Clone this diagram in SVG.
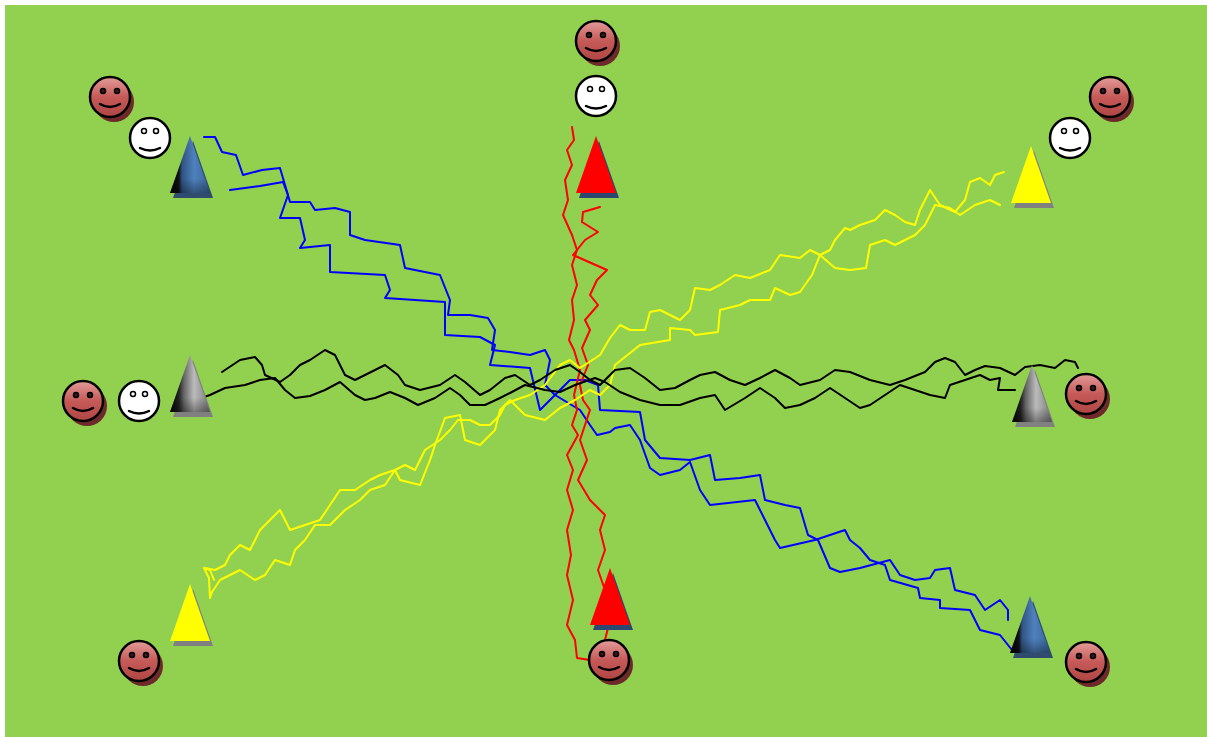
<svg xmlns="http://www.w3.org/2000/svg" width="1207" height="737" viewBox="0 0 1207 737">
  <style>
    .run { fill: none; stroke-width: 2; stroke-linejoin: round; stroke-linecap: round; }
    .blue { stroke: #0000FF; }
    .red { stroke: #FF0000; }
    .yellow { stroke: #FFFF00; }
    .black { stroke: #000000; }
    .face { stroke: #000; stroke-width: 2.5; }
    .eye { fill: #3a1a1a; stroke: #000; stroke-width: 1.5; }
    .mouth { fill: none; stroke: #000; stroke-width: 2.5; stroke-linecap: round; }
  </style>
  <defs>
    <linearGradient id="redFace" x1="0" y1="0" x2="0" y2="1">
      <stop offset="0" stop-color="#E39C9A"/>
      <stop offset="0.5" stop-color="#C55A58"/>
      <stop offset="1" stop-color="#B04644"/>
    </linearGradient>
    <linearGradient id="blueCone" x1="0" y1="0" x2="1" y2="0">
      <stop offset="0" stop-color="#000"/>
      <stop offset="0.22" stop-color="#111"/>
      <stop offset="0.3" stop-color="#2E5383"/>
      <stop offset="0.6" stop-color="#4F81BD"/>
      <stop offset="1" stop-color="#3A659C"/>
    </linearGradient>
    <linearGradient id="grayCone" x1="0" y1="0" x2="1" y2="0">
      <stop offset="0" stop-color="#000"/>
      <stop offset="0.22" stop-color="#222"/>
      <stop offset="0.35" stop-color="#666"/>
      <stop offset="0.6" stop-color="#BBB"/>
      <stop offset="1" stop-color="#7A7A7A"/>
    </linearGradient>
    <linearGradient id="coneBase" x1="0" y1="0" x2="0" y2="1">
      <stop offset="0" stop-color="#000" stop-opacity="0"/>
      <stop offset="0.75" stop-color="#000" stop-opacity="0"/>
      <stop offset="1" stop-color="#000" stop-opacity="0.35"/>
    </linearGradient>

    <!-- smiley faces, centred on 0,0 -->
    <g id="redSmiley">
      <circle cx="4" cy="5" r="20" fill="#6E2A2A"/>
      <circle cx="0" cy="0" r="20" fill="url(#redFace)" class="face"/>
      <circle cx="-7" cy="-6" r="2.5" class="eye"/>
      <circle cx="7" cy="-6" r="2.5" class="eye"/>
      <path d="M-10,7 Q0,13 10,7" class="mouth"/>
    </g>
    <g id="whiteSmiley">
      <circle cx="0" cy="0" r="20" fill="#FFF" class="face"/>
      <circle cx="-6" cy="-7" r="2.5" fill="#FFF" stroke="#000" stroke-width="1.5"/>
      <circle cx="6" cy="-7" r="2.5" fill="#FFF" stroke="#000" stroke-width="1.5"/>
      <path d="M-10,10 Q0,15 10,10" class="mouth"/>
    </g>

    <!-- cones, apex at 0,0 -->
    <polygon id="coneShape" points="0,0 -20,57 20,57"/>
    <polygon id="coneShadow" points="3,5 -17,62 23,62"/>
  </defs>

  <!-- pitch -->
  <rect x="5" y="5" width="1202" height="732" fill="#92D050"/>

  <!-- dribbling runs -->
  <g id="connectors">
    <polyline class="run blue" points="204,137 215,137 222,152 236,155 243,175 262,170 280,168 285,185 290,202 310,202 315,210 335,208 350,212 350,235 365,240 400,245 405,268 425,272 440,275 450,300 448,315 470,315 488,318 495,330 492,350 510,352 530,355 545,350 550,360 545,385 555,395 570,380 585,380 598,385 600,410 640,412 645,440 660,458 690,460 710,455 715,480 740,478 760,475 765,500 785,505 800,508 808,535 818,540 830,568 840,572 860,568 890,560 900,575 915,580 930,578 935,570 950,568 955,590 975,595 985,610 1000,600 1008,610 1008,620"/>
    <polyline class="run blue" points="230,190 260,186 283,182 288,195 280,218 300,218 305,240 300,248 330,245 330,272 385,275 390,290 385,298 445,302 445,335 480,337 495,345 490,365 530,368 540,410 555,395 580,410 590,425 597,435 610,432 615,428 630,425 640,440 650,468 660,475 680,470 690,462 700,490 710,505 755,500 775,540 780,548 815,540 845,530 850,540 860,548 870,560 885,565 890,580 918,588 920,598 940,600 940,608 970,610 980,630 1000,635 1012,650"/>

    <polyline class="run red" points="572,127 574,140 567,150 572,165 565,180 568,200 563,215 572,235 577,250 572,265 577,285 572,300 574,320 569,340 574,350 580,370 574,395 577,410 572,425 578,435 567,455 573,470 567,490 573,510 567,530 571,555 567,575 573,600 567,625 575,640 577,658 590,660"/>
    <polyline class="run red" points="600,207 583,212 582,222 598,232 585,240 573,255 607,270 597,280 590,295 598,305 585,320 590,330 582,348 588,365 580,385 583,400 590,410 585,425 580,440 587,460 578,480 590,500 605,515 600,530 605,550 598,570 605,590 612,595 610,620 605,640 600,645"/>

    <polyline class="run yellow" points="1004,172 995,175 990,185 980,178 970,182 965,200 955,212 940,205 930,190 920,210 915,225 905,222 895,215 885,210 875,220 860,225 850,230 845,228 835,240 830,250 820,255 810,250 800,258 780,255 770,270 750,278 735,275 720,285 710,290 695,288 690,310 680,320 660,310 650,312 645,330 630,330 620,325 610,338 600,355 580,368 570,360 560,365 545,385 530,395 515,400 505,405 500,415 490,425 480,425 470,420 458,420 450,430 440,440 425,450 415,470 405,465 395,470 380,475 370,480 355,490 340,490 330,505 320,520 305,525 290,530 280,510 270,520 260,530 250,550 240,545 230,555 225,565 215,570 205,568"/>
    <polyline class="run yellow" points="1000,205 990,200 975,205 960,215 950,208 935,205 925,225 915,235 905,240 895,245 885,240 870,245 866,268 850,270 835,268 820,255 812,275 800,292 790,295 775,288 770,300 750,300 740,305 720,310 718,332 695,335 690,330 670,328 670,340 640,345 615,365 610,385 600,395 590,390 575,400 560,408 545,420 525,415 510,400 500,410 495,430 480,445 465,440 460,415 445,418 435,445 430,460 420,485 400,480 395,470 385,485 370,490 360,500 345,510 330,525 315,525 305,540 295,550 290,565 275,560 265,575 255,580 240,570 230,575 220,580 212,592 210,598 209,578 204,568 210,570 214,580"/>

    <polyline class="run black" points="222,372 240,360 255,357 262,365 265,375 280,382 290,375 300,365 310,360 325,350 335,355 345,375 355,380 365,375 375,370 385,365 398,375 405,385 420,390 440,385 455,375 465,382 480,395 490,390 505,378 515,375 530,385 540,380 555,370 570,365 580,372 590,380 600,385 615,370 630,368 645,378 660,390 675,388 690,380 700,375 715,372 730,380 745,385 760,378 775,370 790,378 800,385 820,380 835,370 850,372 870,380 890,385 905,380 925,372 935,362 945,358 955,362 965,375 975,370 985,366 1000,368 1015,375 1025,367 1040,365 1055,368 1065,360 1075,362 1078,368"/>
    <polyline class="run black" points="195,400 210,395 225,388 245,385 260,380 275,378 285,390 295,398 310,396 325,390 340,382 355,395 365,400 375,398 390,392 405,398 418,405 435,398 450,388 460,395 470,405 485,405 500,398 510,393 525,385 545,390 560,392 575,385 595,378 605,382 620,392 640,400 660,405 680,405 700,398 715,395 725,410 745,398 760,388 775,398 785,408 800,405 815,398 830,388 845,398 860,408 870,405 885,395 900,385 915,390 930,395 945,398 950,385 965,380 980,375 990,380 1000,378 998,390 1015,390"/>
  </g>

  <!-- cones -->
  <g id="cone-blue-nw">
    <use href="#coneShadow" x="190" y="136" fill="#2F4B6E"/>
    <use href="#coneShape" x="190" y="136" fill="url(#blueCone)"/>
    <use href="#coneShape" x="190" y="136" fill="url(#coneBase)"/>
  </g>
  <g id="cone-red-n">
    <use href="#coneShadow" x="596" y="136" fill="#2C4770"/>
    <use href="#coneShape" x="596" y="136" fill="#FF0000"/>
  </g>
  <g id="cone-yellow-ne">
    <use href="#coneShadow" x="1031" y="146" fill="#808080"/>
    <use href="#coneShape" x="1031" y="146" fill="#FFFF00"/>
  </g>
  <g id="cone-gray-w">
    <use href="#coneShadow" x="190" y="355" fill="#808080"/>
    <use href="#coneShape" x="190" y="355" fill="url(#grayCone)"/>
    <use href="#coneShape" x="190" y="355" fill="url(#coneBase)"/>
  </g>
  <g id="cone-gray-e">
    <use href="#coneShadow" x="1032" y="365" fill="#808080"/>
    <use href="#coneShape" x="1032" y="365" fill="url(#grayCone)"/>
    <use href="#coneShape" x="1032" y="365" fill="url(#coneBase)"/>
  </g>
  <g id="cone-yellow-sw">
    <use href="#coneShadow" x="190" y="584" fill="#808080"/>
    <use href="#coneShape" x="190" y="584" fill="#FFFF00"/>
  </g>
  <g id="cone-red-s">
    <use href="#coneShadow" x="610" y="568" fill="#2C4770"/>
    <use href="#coneShape" x="610" y="568" fill="#FF0000"/>
  </g>
  <g id="cone-blue-se">
    <use href="#coneShadow" x="1030" y="596" fill="#2F4B6E"/>
    <use href="#coneShape" x="1030" y="596" fill="url(#blueCone)"/>
    <use href="#coneShape" x="1030" y="596" fill="url(#coneBase)"/>
  </g>

  <!-- players -->
  <g id="player-red-nw"><use href="#redSmiley" x="110" y="97"/></g>
  <g id="player-white-nw"><use href="#whiteSmiley" x="150" y="138"/></g>
  <g id="player-red-n"><use href="#redSmiley" x="596" y="41"/></g>
  <g id="player-white-n"><use href="#whiteSmiley" x="596" y="96"/></g>
  <g id="player-red-ne"><use href="#redSmiley" x="1110" y="97"/></g>
  <g id="player-white-ne"><use href="#whiteSmiley" x="1070" y="138"/></g>
  <g id="player-red-w"><use href="#redSmiley" x="83" y="401"/></g>
  <g id="player-white-w"><use href="#whiteSmiley" x="139" y="401"/></g>
  <g id="player-red-e"><use href="#redSmiley" x="1086" y="394"/></g>
  <g id="player-red-sw"><use href="#redSmiley" x="139" y="661"/></g>
  <g id="player-red-s"><use href="#redSmiley" x="609" y="660"/></g>
  <g id="player-red-se"><use href="#redSmiley" x="1086" y="662"/></g>
</svg>
